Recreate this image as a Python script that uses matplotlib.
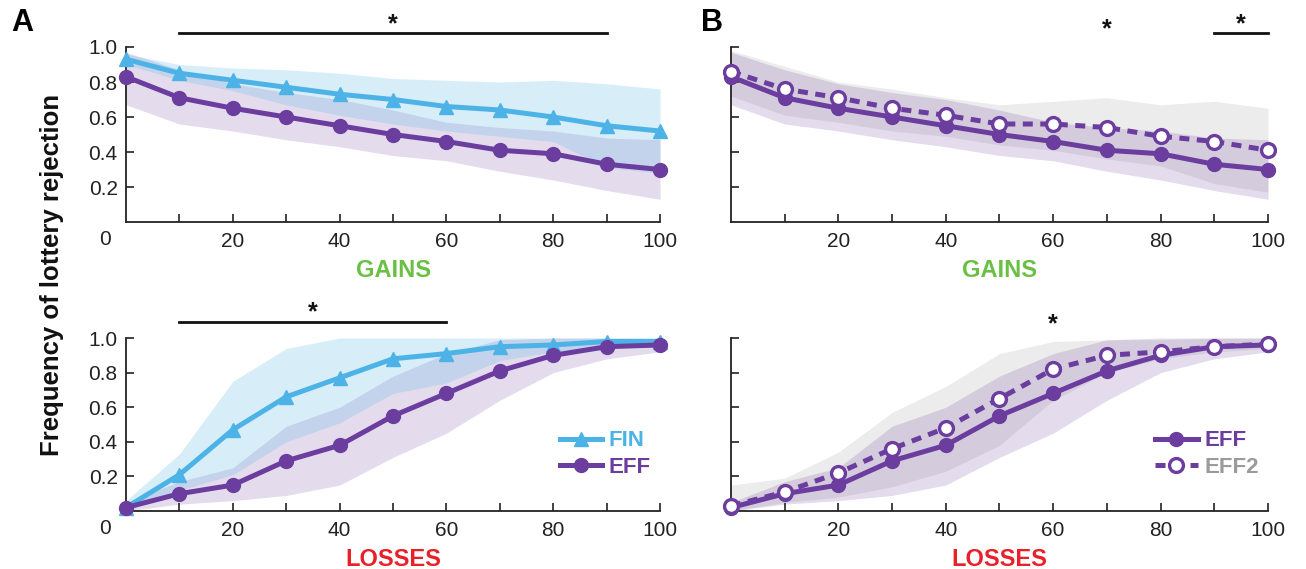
import matplotlib.pyplot as plt
import numpy as np

plt.rcParams['font.family'] = ['Liberation Sans', 'DejaVu Sans']

amounts = [0, 10, 20, 30, 40, 50, 60, 70, 80, 90, 100]

# gains
gain_fin = [0.93, 0.85, 0.81, 0.77, 0.73, 0.70, 0.66, 0.64, 0.60, 0.55, 0.52]
gain_fin_lo = [0.90, 0.81, 0.75, 0.67, 0.61, 0.56, 0.52, 0.49, 0.46, 0.31, 0.28]
gain_fin_hi = [0.96, 0.90, 0.88, 0.87, 0.85, 0.82, 0.81, 0.80, 0.81, 0.79, 0.76]
gain_eff = [0.83, 0.71, 0.65, 0.60, 0.55, 0.50, 0.46, 0.41, 0.39, 0.33, 0.30]
gain_eff_lo = [0.67, 0.56, 0.52, 0.47, 0.43, 0.38, 0.35, 0.29, 0.24, 0.18, 0.13]
gain_eff_hi = [0.97, 0.87, 0.79, 0.74, 0.70, 0.64, 0.57, 0.54, 0.52, 0.48, 0.47]
gain_eff2 = [0.86, 0.76, 0.71, 0.65, 0.61, 0.56, 0.56, 0.54, 0.49, 0.46, 0.41]
gain_eff2_lo = [0.72, 0.61, 0.57, 0.52, 0.49, 0.44, 0.41, 0.36, 0.32, 0.22, 0.17]
gain_eff2_hi = [0.98, 0.89, 0.80, 0.76, 0.71, 0.67, 0.69, 0.71, 0.67, 0.69, 0.65]

# losses
loss_fin = [0.02, 0.21, 0.47, 0.66, 0.77, 0.88, 0.91, 0.95, 0.96, 0.98, 0.98]
loss_fin_lo = [0.0, 0.12, 0.21, 0.40, 0.51, 0.68, 0.74, 0.87, 0.92, 0.95, 0.96]
loss_fin_hi = [0.06, 0.33, 0.75, 0.94, 1.0, 1.0, 1.0, 1.0, 1.0, 1.0, 1.0]
loss_eff = [0.02, 0.10, 0.15, 0.29, 0.38, 0.55, 0.68, 0.81, 0.90, 0.95, 0.96]
loss_eff_lo = [0.0, 0.04, 0.06, 0.09, 0.15, 0.31, 0.45, 0.64, 0.80, 0.88, 0.92]
loss_eff_hi = [0.05, 0.17, 0.25, 0.49, 0.60, 0.78, 0.91, 0.99, 1.0, 1.0, 1.0]
loss_eff2 = [0.03, 0.11, 0.22, 0.36, 0.48, 0.65, 0.82, 0.90, 0.92, 0.95, 0.965]
loss_eff2_lo = [0.0, 0.05, 0.08, 0.14, 0.23, 0.38, 0.64, 0.80, 0.88, 0.92, 0.94]
loss_eff2_hi = [0.15, 0.19, 0.34, 0.57, 0.72, 0.91, 0.98, 0.99, 0.99, 1.0, 1.0]

blue = '#4db3e6'
purple = '#6b3d9e'
grey_txt = '#9b9b9b'
green = '#6abf45'
red = '#e8202a'

fig = plt.figure(figsize=(13.06, 5.69), dpi=100)
axA1 = fig.add_axes([0.0965, 0.6098, 0.4089, 0.3076])
axA2 = fig.add_axes([0.0965, 0.1019, 0.4089, 0.3040])
axB1 = fig.add_axes([0.5597, 0.6098, 0.4112, 0.3076])
axB2 = fig.add_axes([0.5597, 0.1019, 0.4112, 0.3040])

lw = 3.6
ms = 10

def style(ax, show_y):
    ax.set_xlim(0, 100)
    ax.set_ylim(0, 1.0)
    ax.spines['top'].set_visible(False)
    ax.spines['right'].set_visible(False)
    for s in ['left', 'bottom']:
        ax.spines[s].set_linewidth(1.3)
        ax.spines[s].set_color('#222222')
    ax.set_xticks(amounts[1:])
    ax.set_xticklabels(['' if a % 20 else str(a) for a in amounts[1:]])
    ax.set_yticks([0.2, 0.4, 0.6, 0.8, 1.0])
    if show_y:
        ax.set_yticklabels(['0.2', '0.4', '0.6', '0.8', '1.0'])
        ax.text(-4, -0.045, '0', transform=ax.get_xaxis_transform(), ha='center', va='top',
                fontsize=15, color='#222222')
    else:
        ax.set_yticklabels([])
    ax.tick_params(direction='in', length=6, width=1.2, color='#222222', labelsize=15,
                   labelcolor='#222222')
    ax.tick_params(axis='x', pad=7)
    ax.tick_params(axis='y', pad=6)

# panel A
for ax, fin, flo, fhi, eff, elo, ehi in [
        (axA1, gain_fin, gain_fin_lo, gain_fin_hi, gain_eff, gain_eff_lo, gain_eff_hi),
        (axA2, loss_fin, loss_fin_lo, loss_fin_hi, loss_eff, loss_eff_lo, loss_eff_hi)]:
    ax.fill_between(amounts, elo, ehi, color=purple, alpha=0.18, lw=0)
    ax.fill_between(amounts, flo, fhi, color=blue, alpha=0.22, lw=0)
    ax.plot(amounts, fin, color=blue, lw=lw, marker='^', ms=ms, label='FIN', clip_on=False, zorder=4)
    ax.plot(amounts, eff, color=purple, lw=lw, marker='o', ms=ms, label='EFF', clip_on=False, zorder=5)

# panel B
for ax, eff, elo, ehi, e2, e2lo, e2hi in [
        (axB1, gain_eff, gain_eff_lo, gain_eff_hi, gain_eff2, gain_eff2_lo, gain_eff2_hi),
        (axB2, loss_eff, loss_eff_lo, loss_eff_hi, loss_eff2, loss_eff2_lo, loss_eff2_hi)]:
    ax.fill_between(amounts, e2lo, e2hi, color='#808080', alpha=0.15, lw=0)
    ax.fill_between(amounts, elo, ehi, color=purple, alpha=0.18, lw=0)
    ax.plot(amounts, eff, color=purple, lw=lw, marker='o', ms=ms, label='EFF', clip_on=False, zorder=4)
    ax.plot(amounts, e2, color=purple, lw=lw, ls=(0, (2.0, 1.5)), marker='o', ms=ms, mfc='white',
            mew=2.4, label='EFF2', clip_on=False, zorder=5)

style(axA1, True)
style(axA2, True)
style(axB1, False)
style(axB2, False)

for ax in [axA1, axB1]:
    ax.set_xlabel('GAINS', color=green, fontsize=17, fontweight='bold', labelpad=6)
for ax in [axA2, axB2]:
    ax.set_xlabel('LOSSES', color=red, fontsize=17, fontweight='bold', labelpad=6)

# significance markers
sig = dict(color='#111111', lw=2.0, clip_on=False)
star = dict(ha='center', va='center', fontsize=18, fontweight='bold', color='#111111')
axA1.plot([10, 90], [1.08, 1.08], **sig)
axA1.text(50, 1.13, '*', **star)
axA2.plot([10, 60], [1.09, 1.09], **sig)
axA2.text(35, 1.15, '*', **star)
axB1.text(70, 1.10, '*', **star)
axB1.plot([90, 100], [1.08, 1.08], **sig)
axB1.text(95, 1.13, '*', **star)
axB2.text(60, 1.08, '*', **star)

axA2.legend(loc='lower right', bbox_to_anchor=(1.02, 0.075), frameon=False,
            handlelength=1.9, handletextpad=0.3, labelspacing=0.25,
            labelcolor=[blue, purple], prop={'weight': 'bold', 'size': 16})
axB2.legend(loc='lower right', bbox_to_anchor=(1.02, 0.075), frameon=False,
            handlelength=1.9, handletextpad=0.3, labelspacing=0.25,
            labelcolor=[purple, grey_txt], prop={'weight': 'bold', 'size': 16})

fig.text(0.040, 0.517, 'Frequency of lottery rejection', rotation=90, ha='center', va='center',
         fontsize=18.5, fontweight='bold', color='#111111')
fig.text(0.017, 0.96, 'A', fontsize=22, fontweight='bold', ha='center', va='center')
fig.text(0.545, 0.96, 'B', fontsize=22, fontweight='bold', ha='center', va='center')

fig.savefig('out.png', dpi=100)
